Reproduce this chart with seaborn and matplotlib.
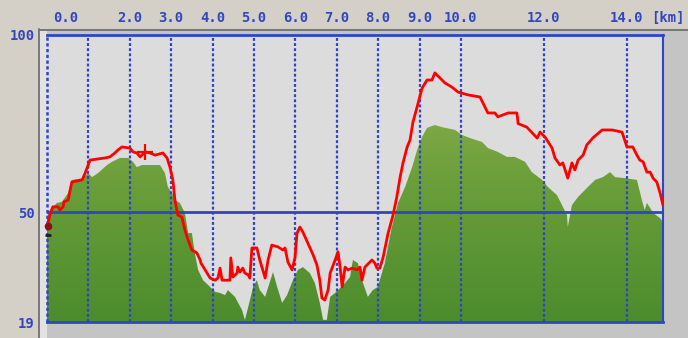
import numpy as np
import matplotlib
matplotlib.use("Agg")
import matplotlib.pyplot as plt
from matplotlib.colors import LinearSegmentedColormap
from matplotlib.patches import Rectangle
from matplotlib.lines import Line2D
import seaborn as sns

# red line (km, value)
pace_km = [0.00, 0.07, 0.14, 0.27, 0.31, 0.39, 0.41, 0.51, 0.60, 0.85, 0.92, 1.04, 1.40, 1.52, 1.64,
           1.71, 1.81, 2.00, 2.08, 2.17, 2.25, 2.37, 2.49, 2.61, 2.80, 2.90, 2.97, 3.04, 3.09, 3.16,
           3.26, 3.33, 3.41, 3.50, 3.62, 3.70, 3.72, 3.82, 3.94, 4.06, 4.13, 4.18, 4.23, 4.42, 4.44,
           4.49, 4.59, 4.61, 4.66, 4.73, 4.78, 4.86, 4.90, 4.95, 5.07, 5.14, 5.27, 5.34, 5.43, 5.58,
           5.70, 5.75, 5.82, 5.92, 5.99, 6.04, 6.11, 6.18, 6.30, 6.43, 6.52, 6.59, 6.64, 6.71, 6.79,
           6.84, 6.96, 7.03, 7.08, 7.13, 7.20, 7.27, 7.37, 7.49, 7.56, 7.61, 7.68, 7.85, 7.92, 7.97,
           8.04, 8.12, 8.24, 8.36, 8.45, 8.53, 8.60, 8.70, 8.77, 8.84, 8.94, 9.06, 9.18, 9.30, 9.37,
           9.49, 9.61, 9.78, 9.93, 10.17, 10.46, 10.65, 10.82, 10.89, 11.14, 11.35, 11.38, 11.59, 11.84,
           11.91, 12.03, 12.20, 12.27, 12.39, 12.46, 12.58, 12.68, 12.75, 12.83, 12.95, 13.04, 13.19,
           13.41, 13.65, 13.89, 14.01, 14.15, 14.25, 14.32, 14.40, 14.49, 14.57, 14.64, 14.73, 14.81,
           14.88]
pace_val = [45.5, 49.2, 51.5, 51.5, 50.6, 51.5, 52.9, 53.4, 58.5, 59.1, 61.0, 64.7, 65.3, 65.6, 66.7,
            67.5, 68.4, 68.1, 67.0, 66.7, 65.6, 67.0, 66.7, 66.1, 66.7, 65.3, 62.7, 59.1, 53.4, 49.2,
            48.6, 45.0, 42.1, 39.3, 38.5, 36.5, 35.6, 33.7, 31.4, 30.8, 31.4, 34.2, 30.8, 30.8, 37.1,
            31.7, 32.8, 34.5, 33.1, 34.2, 32.8, 32.3, 31.4, 39.9, 39.9, 36.5, 31.4, 36.5, 40.7, 40.2,
            39.3, 39.9, 35.9, 33.7, 37.1, 44.1, 45.8, 44.4, 41.3, 37.9, 35.1, 30.8, 25.8, 25.2, 28.0,
            32.8, 36.5, 38.8, 34.5, 28.9, 34.5, 33.7, 34.2, 33.7, 34.5, 30.8, 34.5, 36.5, 35.6, 34.2,
            34.2, 37.3, 44.1, 49.2, 54.3, 59.9, 63.9, 68.4, 70.4, 75.4, 79.7, 85.0, 87.3, 87.3, 89.3,
            87.9, 86.5, 85.3, 83.9, 83.1, 82.5, 78.0, 78.0, 76.9, 78.0, 78.0, 75.0, 74.0, 70.9,
            72.6, 71.2, 68.1, 65.3, 63.3, 63.9, 59.6, 63.9, 61.9, 64.7, 66.1, 69.0, 71.0,
            73.2, 73.2, 72.6, 68.4, 68.4, 66.1, 64.7, 64.2, 61.3, 61.3, 59.6, 58.5, 55.4,
            52.0]

# green area (km, value)
elev_km = [0.00, 0.07, 0.24, 0.36, 0.51, 0.60, 0.87, 0.99, 1.09, 1.23, 1.45, 1.57, 1.76, 1.96, 2.08,
           2.17, 2.29, 2.73, 2.85, 2.92, 3.02, 3.09, 3.21, 3.33, 3.41, 3.50, 3.57, 3.65, 3.77, 3.94,
           4.06, 4.18, 4.30, 4.37, 4.54, 4.71, 4.78, 4.86, 4.98, 5.07, 5.14, 5.27, 5.46, 5.56, 5.68,
           5.80, 5.94, 6.06, 6.18, 6.35, 6.47, 6.59, 6.67, 6.76, 6.84, 6.96, 7.03, 7.20, 7.32, 7.39,
           7.51, 7.61, 7.75, 7.87, 7.99, 8.16, 8.33, 8.48, 8.65, 8.82, 8.94, 9.06, 9.18, 9.37, 9.54,
           9.86, 10.02, 10.22, 10.51, 10.65, 10.89, 11.11, 11.30, 11.55, 11.71, 11.96, 12.10, 12.32,
           12.44, 12.56, 12.58, 12.68, 12.83, 13.04, 13.24, 13.43, 13.60, 13.72, 13.96, 14.25, 14.37,
           14.44, 14.49, 14.57, 14.64, 14.81, 14.88]
elev_val = [48.6, 50.6, 52.6, 52.9, 55.4, 59.1, 59.6, 61.0, 59.9, 61.0, 63.3, 64.2, 65.3, 65.3, 64.2,
            62.7, 63.3, 63.3, 61.0, 57.1, 55.4, 53.4, 52.6, 49.8, 44.1, 44.1, 38.5, 33.7, 30.8, 28.9,
            27.5, 27.2, 26.6, 28.0, 26.1, 22.4, 19.6, 23.2, 28.9, 30.8, 28.0, 26.1, 33.1, 28.9, 24.4,
            26.6, 30.8, 33.7, 34.5, 32.8, 30.0, 24.4, 19.6, 19.6, 26.1, 27.2, 28.0, 30.0, 31.7, 36.5,
            35.6, 30.8, 26.1, 28.0, 28.9, 35.6, 45.8, 52.6, 57.1, 62.7, 67.5, 71.2, 73.8, 74.6, 74.0,
            73.2, 71.8, 70.9, 69.8, 68.1, 67.0, 65.6, 65.6, 64.2, 61.3, 59.1, 57.1, 54.8,
            52.0, 49.2, 45.8, 52.0, 54.3, 56.8, 59.1, 59.9, 61.3, 59.9, 59.6, 59.1, 53.4,
            50.6, 52.6, 51.2, 49.8, 48.3, 47.2]

grid_km = [1, 2, 3, 4, 5, 6, 7, 8, 9, 10, 12, 14]
grid_labels = ["", "2.0", "3.0", "4.0", "5.0", "6.0", "7.0", "8.0", "9.0", "10.0", "12.0", "14.0"]
y_ticks = [19, 50, 100]
cross_km, cross_val = 2.37, 67.0

blue = "#2F45C8"
text_blue = "#3346BE"

sns.set_style("white")
plt.rcParams["font.family"] = ["DejaVu Sans Mono"]
plt.rcParams["font.weight"] = "bold"

W, H = 688, 338
fig = plt.figure(figsize=(W / 100, H / 100), dpi=100, facecolor="#D4D0C8")

# sunken panel behind plot
fig.patches.append(Rectangle((38 / W, 0), 1 - 38 / W, 1 - 29 / H, transform=fig.transFigure,
                             facecolor="#C4C4C4", edgecolor="none", zorder=-5))
fig.patches.append(Rectangle((39 / W, 0), 8 / W, 1 - 30 / H, transform=fig.transFigure,
                             facecolor="#E2E2E2", edgecolor="none", zorder=-4))
fig.add_artist(Line2D([38.5 / W, 38.5 / W], [0, 1 - 29 / H], color="#707070", lw=1.3, zorder=-3))
fig.add_artist(Line2D([38.5 / W, 1], [1 - 29.5 / H, 1 - 29.5 / H], color="#707070", lw=1.3, zorder=-3))

ax = fig.add_axes([47 / W, 16 / H, 616 / W, 287 / H])
ax.set_facecolor("#DCDCDC")
xmax = 14.88
ax.set_xlim(0, xmax)
ax.set_ylim(19, 100)

# green area with vertical gradient
poly = ax.fill_between(elev_km, 19, elev_val, color="none", lw=0)
cmap = LinearSegmentedColormap.from_list("g", ["#4C8C2D", "#6C9F3A", "#97B857"])
grad = np.linspace(0, 1, 256).reshape(-1, 1)
img = ax.imshow(grad, cmap=cmap, origin="lower", aspect="auto",
                extent=[0, xmax, 19, 100], zorder=1)
img.set_clip_path(poly.get_paths()[0], transform=ax.transData)

ax.axvline(0, color=blue, lw=1.8, ls=(0, (1.3, 1.0)), zorder=2, clip_on=False)
for k in grid_km:
    ax.axvline(k, color=blue, lw=1.6, ls=(0, (1.3, 1.0)), zorder=2)
ax.axhline(50, color=blue, lw=2, zorder=2)

sns.lineplot(x=pace_km, y=pace_val, ax=ax, color="#FF0000", lw=2.0, estimator=None, sort=False,
             zorder=4)
ax.plot([cross_km], [cross_val], marker="+", color="#FF0000", ms=11, mew=1.6, zorder=5)
ax.plot([0.02], [46.0], marker="o", color="#8B1010", ms=4.5, zorder=5, clip_on=False)
ax.plot([0.02], [43.6], marker="_", color="#202020", ms=5, mew=2, zorder=5, clip_on=False)

for side in ["top", "bottom", "right"]:
    ax.spines[side].set_visible(True)
    ax.spines[side].set_color(blue)
    ax.spines[side].set_linewidth(2)
ax.spines["right"].set_linewidth(1.5)
ax.spines["left"].set_visible(False)

fs = 10
ax.xaxis.tick_top()
ax.set_xticks(grid_km)
ax.set_xticklabels(grid_labels)
ax.set_yticks(y_ticks)
ax.set_yticklabels([str(v) for v in y_ticks])
ax.tick_params(axis="x", length=0, pad=7, labelsize=fs, labelcolor=text_blue)
ax.tick_params(axis="y", length=0, pad=9, labelsize=fs, labelcolor=text_blue)
ax.annotate("0.0", xy=(0, 1), xycoords=("data", "axes fraction"), xytext=(4.5, 7),
            textcoords="offset points", ha="left", va="bottom", fontsize=fs, color=text_blue)
ax.annotate("[km]", xy=(14, 1), xycoords=("data", "axes fraction"), xytext=(18, 7),
            textcoords="offset points", ha="left", va="bottom", fontsize=fs, color=text_blue)
ax.set_xlabel("")
ax.set_ylabel("")

fig.savefig("out.png", dpi=100, facecolor=fig.get_facecolor())
